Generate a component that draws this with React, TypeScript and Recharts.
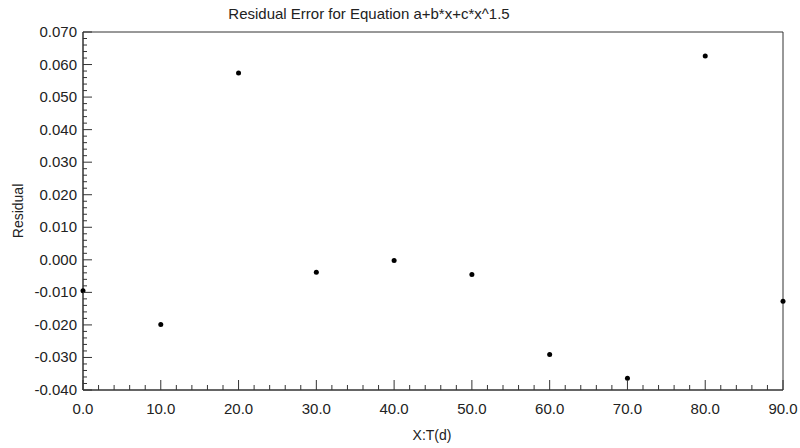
import React from "react";
import {
  ScatterChart,
  Scatter,
  XAxis,
  YAxis,
  ReferenceArea,
} from "recharts";

// Residuals
const xValues = [0, 10, 20, 30, 40, 50, 60, 70, 80, 90];
const residuals = [
  -0.0095, -0.0199, 0.0574, -0.0038, -0.0002, -0.0045, -0.0291, -0.0364, 0.0626,
  -0.0127,
];

const xMajorTicks = [0, 10, 20, 30, 40, 50, 60, 70, 80, 90];
const yMajorTicks = [-0.04, -0.03, -0.02, -0.01, 0, 0.01, 0.02, 0.03, 0.04, 0.05, 0.06, 0.07];

const points = xValues.map((x, i) => ({ x, y: residuals[i] }));

// minor ticks: 5 per x interval, 5 per y interval
const xTicks: number[] = [];
for (let i = 0; i <= 45; i++) xTicks.push(i * 2);
const yTicks: number[] = [];
for (let i = 0; i <= 55; i++) yTicks.push((i * 2 - 40) / 1000);

const isMajorX = (v: number) => xMajorTicks.includes(v);
const isMajorY = (v: number) =>
  yMajorTicks.some((t) => Math.abs(t - v) < 1e-9);

const AXIS = "#333";
const FONT = "'Liberation Sans', Arial, sans-serif";

const YTick = (props: any) => {
  const { x, y, payload } = props;
  const major = isMajorY(payload.value);
  return (
    <g>
      <line x1={x} x2={x + (major ? 9 : 4)} y1={y} y2={y} stroke={AXIS} strokeWidth={1} />
      {major && (
        <text
          x={x - 6}
          y={y}
          dy={5}
          textAnchor="end"
          fontSize={15}
          fontFamily={FONT}
          fill="#222"
        >
          {payload.value.toFixed(3)}
        </text>
      )}
    </g>
  );
};

const XTick = (props: any) => {
  const { x, y, payload } = props;
  const major = isMajorX(payload.value);
  return (
    <g>
      <line x1={x} x2={x} y1={y} y2={y - (major ? 10 : 5)} stroke={AXIS} strokeWidth={1} />
      {major && (
        <text
          x={x}
          y={y + 24}
          textAnchor="middle"
          fontSize={15}
          fontFamily={FONT}
          fill="#222"
        >
          {payload.value.toFixed(1)}
        </text>
      )}
    </g>
  );
};

const Dot = (props: any) => {
  const { cx, cy } = props;
  return <circle cx={cx} cy={cy} r={2.5} fill="#000" />;
};

export default function App() {
  return (
    <div style={{ position: "absolute", left: 0, top: 0, width: 800, height: 448, background: "#fff" }}>
      <ScatterChart
        width={800}
        height={448}
        margin={{ top: 32, right: 17, bottom: 28, left: 0 }}
      >
        <text
          x={369}
          y={19}
          textAnchor="middle"
          fontSize={15}
          fontFamily={FONT}
          fill="#222"
        >
          Residual Error for Equation a+b*x+c*x^1.5
        </text>
        <text
          x={23}
          y={211}
          textAnchor="middle"
          fontSize={14}
          fontFamily={FONT}
          fill="#222"
          transform="rotate(-90 23 211)"
        >
          Residual
        </text>
        <text
          x={432}
          y={440}
          textAnchor="middle"
          fontSize={14}
          fontFamily={FONT}
          fill="#222"
        >
          X:T(d)
        </text>
        <XAxis
          type="number"
          dataKey="x"
          domain={[0, 90]}
          ticks={xTicks}
          interval={0}
          height={30}
          tickSize={0}
          tickMargin={0}
          tickLine={false}
          axisLine={{ stroke: AXIS }}
          tick={<XTick />}
        />
        <YAxis
          type="number"
          dataKey="y"
          domain={[-0.04, 0.07]}
          ticks={yTicks}
          interval={0}
          width={83}
          tickSize={0}
          tickMargin={0}
          tickLine={false}
          axisLine={{ stroke: AXIS }}
          tick={<YTick />}
        />
        <ReferenceArea
          x1={0}
          x2={90}
          y1={-0.04}
          y2={0.07}
          fill="none"
          stroke={AXIS}
          strokeWidth={1}
        />
        <Scatter data={points} shape={<Dot />} isAnimationActive={false} />
      </ScatterChart>
    </div>
  );
}
